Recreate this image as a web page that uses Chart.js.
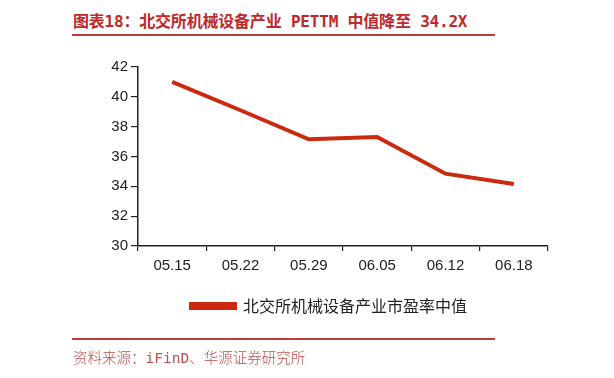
<!DOCTYPE html>
<html>
<head>
<meta charset="utf-8">
<script src="https://cdn.jsdelivr.net/npm/chart.js@4.4.1/dist/chart.umd.min.js"></script>
<style>
  body { margin: 0; background: #fff; width: 614px; height: 378px; overflow: hidden; position: relative; }
  .title {
    position: absolute; left: 73px; top: 8px;
    font-family: "DejaVu Sans Mono", "Noto Sans CJK SC", sans-serif;
    font-weight: bold; font-size: 16px; letter-spacing: -0.2px; color: #c0282a; white-space: nowrap;
  }
  .rule { position: absolute; left: 72px; width: 423px; height: 2px; background: #c0393b; }
  .source {
    position: absolute; left: 73px; top: 346px;
    font-family: "DejaVu Sans Mono", "Noto Sans CJK SC", sans-serif;
    font-size: 14.5px; font-weight: 300; color: #c0504d; white-space: nowrap;
  }
  #wrap { position: absolute; left: 0; top: 0; width: 614px; height: 378px; }
</style>
</head>
<body>
<div class="title">图表18：北交所机械设备产业 PETTM 中值降至 34.2X</div>
<div class="rule" style="top:34px"></div>
<div id="wrap"><canvas id="chart"></canvas></div>
<div class="rule" style="top:338px"></div>
<div class="source">资料来源：iFinD、华源证券研究所</div>
<script>
// Data
const dates = ['05.15', '05.22', '05.29', '06.05', '06.12', '06.18'];
const peMedian = [41.0, 39.1, 37.15, 37.3, 34.85, 34.15];
const seriesName = '北交所机械设备产业市盈率中值';
const yTicks = [30, 32, 34, 36, 38, 40, 42];

const red = '#cc2a10';
const axisColor = '#222';
const tickFont = { family: '"Liberation Sans", Arial, sans-serif', size: 15 };

new Chart(document.getElementById('chart'), {
    type: 'line',
    data: {
        labels: dates,
        datasets: [{
            label: seriesName,
            data: peMedian,
            borderColor: red,
            backgroundColor: red,
            borderWidth: 4,
            pointRadius: 0,
            tension: 0
        }]
    },
    options: {
        responsive: true,
        maintainAspectRatio: false,
        animation: false,
        layout: { padding: { top: 67, right: 66, bottom: 54, left: 110 } },
        plugins: {
            tooltip: { enabled: false },
            legend: {
                position: 'bottom',
                labels: {
                    boxWidth: 44,
                    boxHeight: 4,
                    color: '#222',
                    font: { family: '"Noto Sans CJK SC", sans-serif', size: 16 },
                    padding: 6
                }
            }
        },
        scales: {
            x: {
                offset: true,
                grid: { offset: true, drawOnChartArea: false, color: axisColor, tickLength: 5, lineWidth: 1.2 },
                border: { color: axisColor, width: 1.5 },
                ticks: { color: '#222', font: tickFont, padding: 6, maxRotation: 0 },
                afterFit: s => { s.height = 46; }
            },
            y: {
                min: 30,
                max: 42,
                afterBuildTicks: s => { s.ticks = yTicks.map(v => ({ value: v })); },
                grid: { drawOnChartArea: false, color: axisColor, tickLength: 7, lineWidth: 1.2 },
                border: { color: axisColor, width: 1.5 },
                ticks: { color: '#222', font: tickFont, padding: 3 },
                afterFit: s => { s.width = 28; }
            }
        }
    }
});
</script>
</body>
</html>
